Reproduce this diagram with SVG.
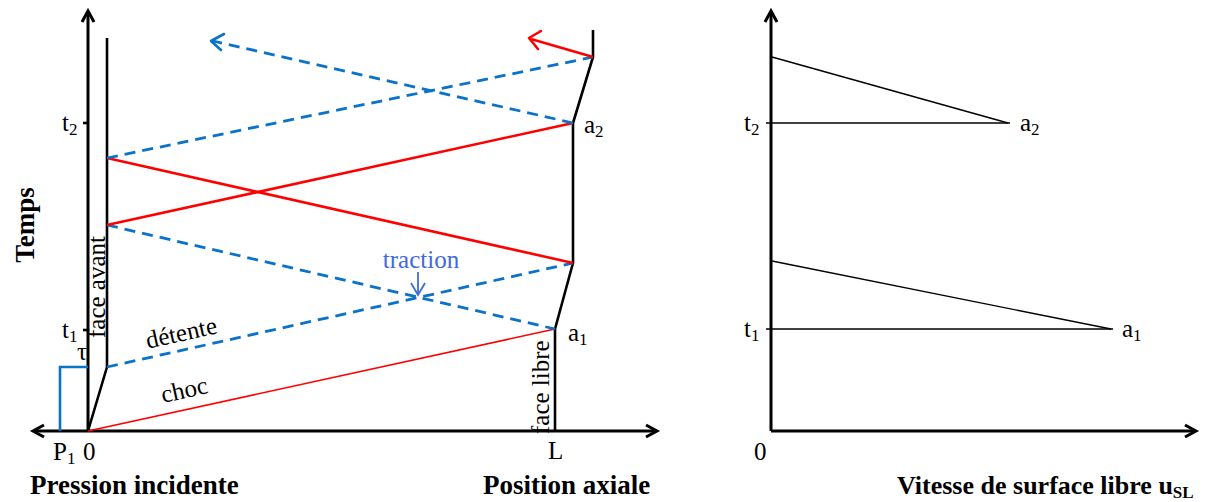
<svg xmlns="http://www.w3.org/2000/svg" width="1208" height="502" viewBox="0 0 1208 502">
<style>
text{font-family:"Liberation Serif","Times New Roman",serif;fill:#000}
.lbl{font-size:25px}
.sub{font-size:17px}
.bold{font-size:27px;font-weight:bold}
.axis{stroke:#000;stroke-width:3;fill:none}
.face{stroke:#000;stroke-width:2.6;fill:none;stroke-linejoin:round}
.red{stroke:#ff0000;stroke-width:2.6;fill:none}
.redthin{stroke:#ff0000;stroke-width:1.6;fill:none}
.dash{stroke:#0a72c8;stroke-width:2.8;fill:none;stroke-dasharray:11 7}
.blue{stroke:#0a72c8;stroke-width:2.6;fill:none}
.thin{stroke:#000;stroke-width:1.4;fill:none}
.head{fill:none;stroke-width:2.6;stroke-linecap:round;stroke-linejoin:round}
</style>
<g id="axes-left">
<line class="axis" x1="88" y1="431" x2="88" y2="12"/>
<polyline class="axis" points="82,22 88,11 94,22"/>
<line class="axis" x1="34" y1="431" x2="656" y2="431"/>
<polyline class="axis" points="44,425 33,431 44,437"/>
<polyline class="axis" points="646,425 657,431 646,437"/>
<line class="face" x1="83" y1="123" x2="88" y2="123"/>
<line class="face" x1="83" y1="330" x2="88" y2="330"/>
</g>
<g id="face-avant">
<polyline class="face" points="107,38 107,367 88,431"/>
<text class="lbl" transform="translate(105,338) rotate(-90)">face avant</text>
</g>
<g id="face-libre">
<polyline class="face" points="555,431 555,329 573,263 573,123 593,57 593,30"/>
<text class="lbl" transform="translate(549,434) rotate(-90)">face libre</text>
</g>
<g id="pulse">
<polyline class="blue" points="60,431 60,367 88,367"/>
</g>
<g id="connectors">
<line class="redthin" x1="88" y1="431" x2="555" y2="329"/>
<line class="dash" x1="107" y1="367" x2="573" y2="263"/>
<line class="dash" x1="107" y1="225" x2="555" y2="329"/>
<line class="red" x1="107" y1="225" x2="573" y2="123"/>
<line class="red" x1="107" y1="158" x2="573" y2="263"/>
<line class="dash" x1="107" y1="158" x2="593" y2="57"/>
<line class="dash" x1="573" y1="123" x2="213" y2="41"/>
<polyline class="head" stroke="#0a72c8" points="224,34 211,41 221,50"/>
<line class="red" x1="593" y1="57" x2="531" y2="39"/>
<polyline class="head" stroke="#ff0000" points="541,31 529,38 538,49"/>
<line stroke="#4169e1" stroke-width="1.8" x1="418" y1="272" x2="418" y2="294"/>
<polyline fill="none" stroke="#4169e1" stroke-width="1.8" points="411,283 418,295 425,283"/>
</g>
<g id="labels-left">
<text class="bold" transform="translate(34,225) rotate(-90)" text-anchor="middle">Temps</text>
<text class="lbl" x="62" y="131">t<tspan class="sub" dy="4">2</tspan></text>
<text class="lbl" x="62" y="338">t<tspan class="sub" dy="4">1</tspan></text>
<text class="lbl" x="77" y="360">τ</text>
<text class="lbl" x="53" y="460">P<tspan class="sub" dy="4">1</tspan></text>
<text class="lbl" x="83" y="460">0</text>
<text class="lbl" x="548" y="459">L</text>
<text class="lbl" x="584" y="133">a<tspan class="sub" dy="4">2</tspan></text>
<text class="lbl" x="568" y="341">a<tspan class="sub" dy="4">1</tspan></text>
<text class="lbl" transform="translate(183,341) rotate(-12.5)" text-anchor="middle">détente</text>
<text class="lbl" transform="translate(186,398) rotate(-12.5)" text-anchor="middle">choc</text>
<text class="lbl" x="421" y="268" text-anchor="middle" style="fill:#4169e1">traction</text>
<text class="bold" x="30" y="494">Pression incidente</text>
<text class="bold" x="483" y="494">Position axiale</text>
</g>
<g id="axes-right">
<line class="axis" x1="771" y1="431" x2="771" y2="12"/>
<polyline class="axis" points="765,22 771,11 777,22"/>
<line class="axis" x1="771" y1="431" x2="1195" y2="431"/>
<polyline class="axis" points="1185,425 1196,431 1185,437"/>
</g>
<g id="curve-a2">
<line class="thin" x1="766" y1="123" x2="1010" y2="123"/>
<line class="thin" x1="772" y1="57" x2="1008" y2="123"/>
<text class="lbl" x="744" y="131">t<tspan class="sub" dy="4">2</tspan></text>
<text class="lbl" x="1020" y="131">a<tspan class="sub" dy="4">2</tspan></text>
</g>
<g id="curve-a1">
<line class="thin" x1="766" y1="329" x2="1113" y2="329"/>
<line class="thin" x1="772" y1="261" x2="1111" y2="329"/>
<text class="lbl" x="744" y="337">t<tspan class="sub" dy="4">1</tspan></text>
<text class="lbl" x="1122" y="337">a<tspan class="sub" dy="4">1</tspan></text>
</g>
<g id="labels-right">
<text class="lbl" x="754" y="460">0</text>
<text class="bold" x="897" y="494" style="font-size:26px">Vitesse de surface libre u<tspan style="font-size:17px" dy="4">SL</tspan></text>
</g>
</svg>
